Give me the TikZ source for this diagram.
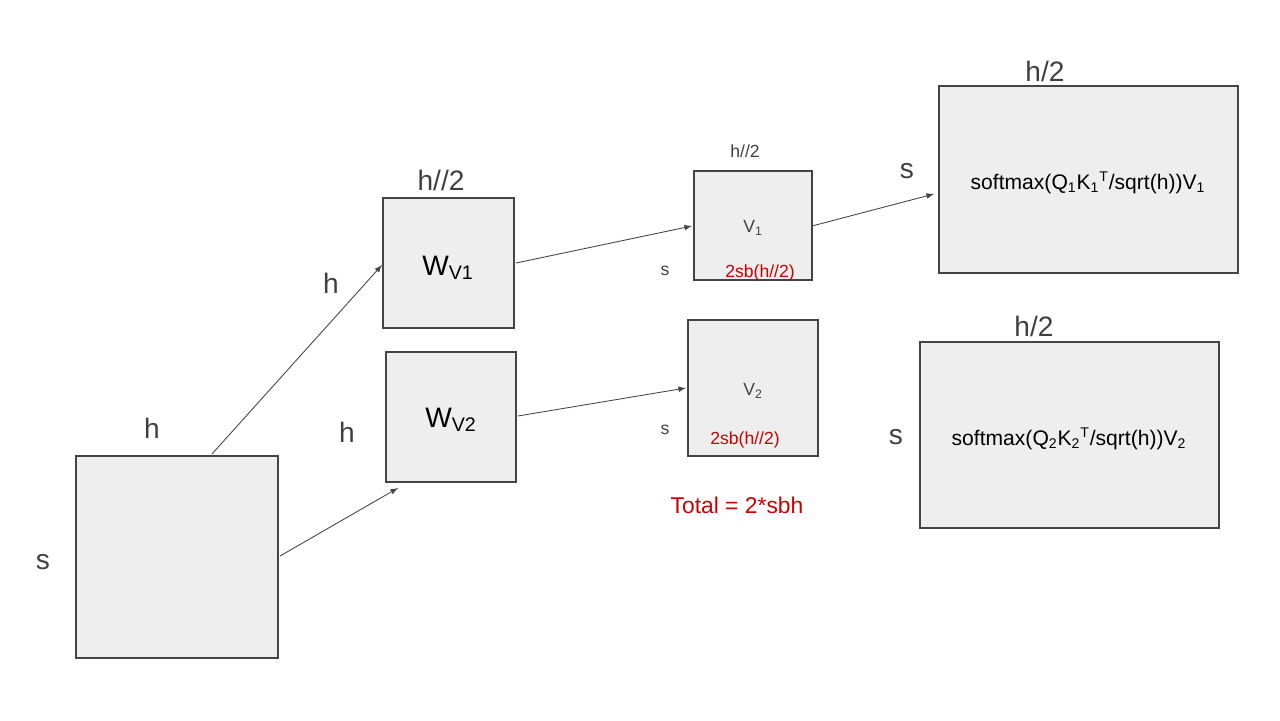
\documentclass[tikz,border=0pt]{standalone}
\usepackage{fontspec}
\setmainfont{Liberation Sans}
\usetikzlibrary{positioning}
\definecolor{boxfill}{HTML}{EEEEEE}
\definecolor{boxline}{HTML}{444444}
\definecolor{redtext}{HTML}{CC0000}
\tikzset{
  mat/.style={draw=boxline, fill=boxfill, line width=0.6pt},
  flow/.style={->, >=latex, draw=boxline, line width=0.5pt},
  dim/.style={font=\fontsize{16}{18}\selectfont, text=black!75},
  small/.style={font=\fontsize{10}{12}\selectfont, text=black!75},
  note/.style={font=\fontsize{10}{12}\selectfont, text=redtext},
}
\begin{document}
\begin{tikzpicture}[x=0.02cm, y=-0.02cm]
    \useasboundingbox (0,0) rectangle (1280,720);

    % matrices
    \draw[mat] (76,456) rectangle (278,658);
    \draw[mat] (383,198) rectangle (514,328);
    \draw[mat] (386,352) rectangle (516,482);
    \draw[mat] (694,171) rectangle (812,280);
    \draw[mat] (688,320) rectangle (818,456);
    \draw[mat] (939,86) rectangle (1238,273);
    \draw[mat] (920,342) rectangle (1219,528);

    \node[font=\fontsize{16}{18}\selectfont](WV1) at (448,268) {W\textsubscript{V1}};
    \node[font=\fontsize{16}{18}\selectfont](WV2) at (451,420) {W\textsubscript{V2}};
    \node[small](V1) at (753,228) {V\textsubscript{1}};
    \node[small](V2) at (753,391) {V\textsubscript{2}};
    \node[font=\fontsize{12}{14}\selectfont](O1) at (1088,183) {softmax(Q\textsubscript{1}K\textsubscript{1}\textsuperscript{T}/sqrt(h))V\textsubscript{1}};
    \node[font=\fontsize{12}{14}\selectfont](O2) at (1069,439) {softmax(Q\textsubscript{2}K\textsubscript{2}\textsuperscript{T}/sqrt(h))V\textsubscript{2}};

    % dimensions
    \node[dim](Xh) at (152,428) {h};
    \node[dim](Xs) at (43,562) {s};
    \node[dim](W1h) at (331,283) {h};
    \node[dim](W1w) at (441,180) {h//2};
    \node[dim](W2h) at (347,432) {h};
    \node[small](V1w) at (745,151) {h//2};
    \node[small](V1s) at (665,271) {s};
    \node[small](V2s) at (665,430) {s};
    \node[note](V1m) at (760,273) {2sb(h//2)};
    \node[note](V2m) at (745,440) {2sb(h//2)};
    \node[font=\fontsize{13}{15}\selectfont, text=redtext](Tot) at (737,505) {Total = 2*sbh};
    \node[dim](O1s) at (907,171) {s};
    \node[dim](O1w) at (1045,71) {h/2};
    \node[dim](O2w) at (1034,326) {h/2};
    \node[dim](O2s) at (896,437) {s};

    % arrow ends
    \coordinate (a1) at (212,454);
    \coordinate (a2) at (382,265);
    \coordinate (b1) at (280,556);
    \coordinate (b2) at (398,488);
    \coordinate (c1) at (516,263);
    \coordinate (c2) at (692,226);
    \coordinate (d1) at (518,416);
    \coordinate (d2) at (686,388);
    \coordinate (e1) at (812,226);
    \coordinate (e2) at (934,194);

    \draw[flow] (a1) -- (a2);
    \draw[flow] (b1) -- (b2);
    \draw[flow] (c1) -- (c2);
    \draw[flow] (d1) -- (d2);
    \draw[flow] (e1) -- (e2);
\end{tikzpicture}
\end{document}
